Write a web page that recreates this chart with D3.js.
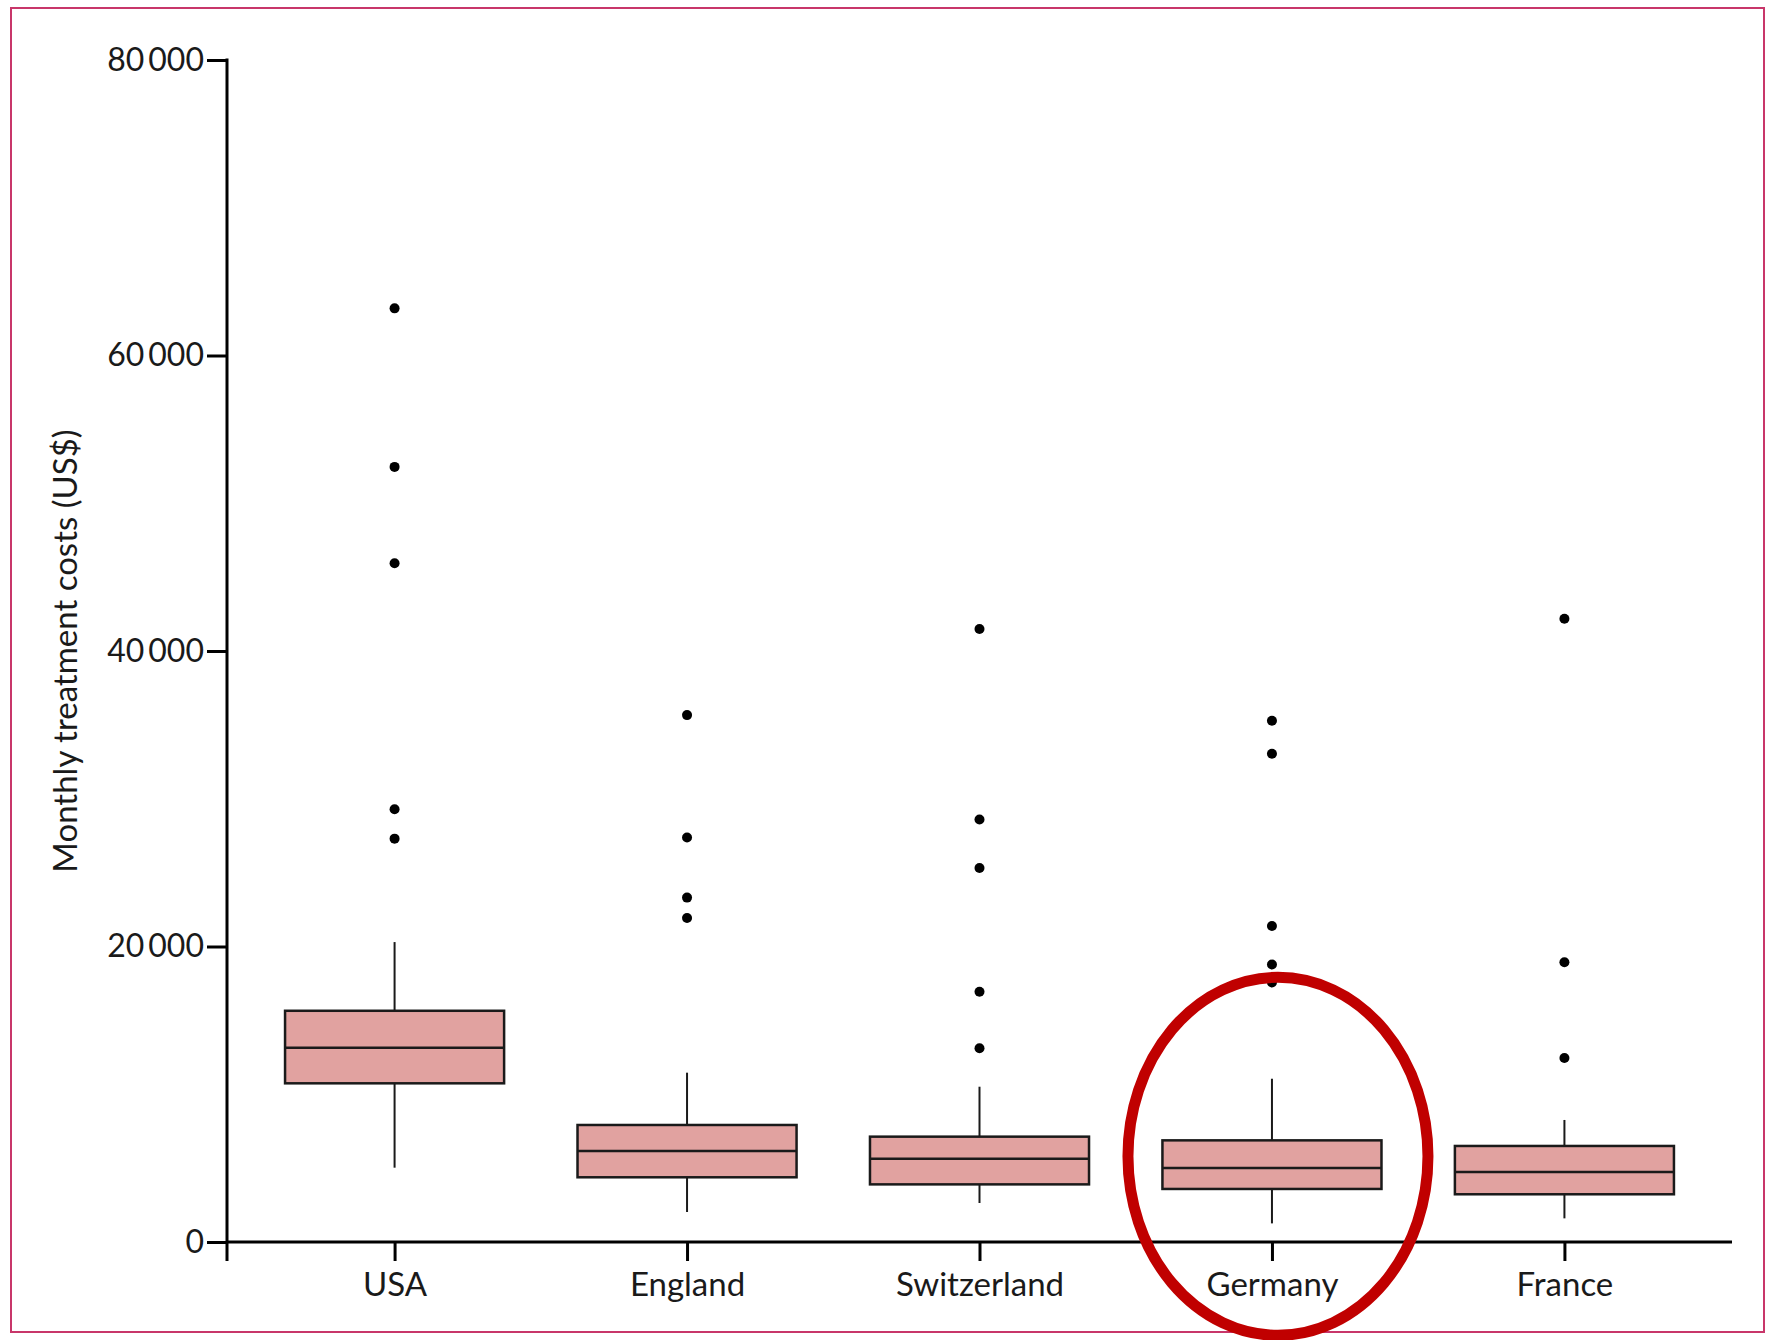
<!DOCTYPE html>
<html lang="en">
<head>
<meta charset="UTF-8">
<title>Monthly treatment costs</title>
<style>
  body, html { margin: 0; padding: 0; background: #fff; }
  #svg { display: block; font-family: Lato, "Open Sans", sans-serif; }
</style>
</head>
<body>
<svg id="svg" width="1777" height="1340"></svg>

<script src="https://d3js.org/d3.v7.min.js"></script>
<script>
// categories and box-plot statistics (US$ per month)
const countries = ['USA', 'England', 'Switzerland', 'Germany', 'France']
const whiskerLow = [5030, 2030, 2640, 1260, 1600]
const q1 = [10740, 4380, 3900, 3590, 3230]
const medians = [13150, 6160, 5640, 5010, 4740]
const q3 = [15650, 7920, 7130, 6880, 6500]
const whiskerHigh = [20300, 11460, 10510, 11050, 8260]
const outliers = [
  [63190, 52460, 45940, 29290, 27300],
  [35660, 27380, 23310, 21930],
  [41490, 28600, 25310, 16940, 13110],
  [35280, 33050, 21390, 18780, 17560],
  [42180, 18940, 12450]
]
const yTicks = [0, 20000, 40000, 60000, 80000]
const highlighted = 'Germany'

const svg = d3.select('#svg')

// frame around the figure
svg.append('rect')
  .attr('x', 11).attr('y', 8)
  .attr('width', 1753).attr('height', 1324)
  .attr('fill', 'none')
  .attr('stroke', '#c8366a')
  .attr('stroke-width', 2)

const plotLeft = 227, plotRight = 1732, plotTop = 60, plotBottom = 1242

const x = d3.scalePoint()
  .domain(countries)
  .range([plotLeft, plotRight])
  .padding(0.573)

const y = d3.scaleLinear()
  .domain([0, 80000])
  .range([plotBottom, plotTop])

const boxW = x.step() * 0.749

// y axis
const fmt = v => d3.format(',')(v).replace(/,/g, '\u2009')
const yAxis = svg.append('g')
  .attr('transform', `translate(${plotLeft},0)`)
  .call(d3.axisLeft(y).tickValues(yTicks).tickFormat(fmt).tickSize(20).tickPadding(3))
yAxis.select('.domain').remove()
yAxis.selectAll('line').attr('stroke', '#000').attr('stroke-width', 3)
yAxis.selectAll('text')
  .attr('fill', '#1a1a1a')
  .style('font-size', '32px')
  .style('font-family', 'Lato, "Open Sans", sans-serif')

// x axis
const xAxis = svg.append('g')
  .attr('transform', `translate(0,${plotBottom})`)
  .call(d3.axisBottom(x).tickSize(19).tickPadding(12))
xAxis.select('.domain').remove()
xAxis.selectAll('line').attr('stroke', '#000').attr('stroke-width', 3)
xAxis.selectAll('text')
  .attr('fill', '#1a1a1a')
  .style('font-size', '33px')
  .style('font-family', 'Lato, "Open Sans", sans-serif')

// axis lines (y line runs a little below the x axis)
svg.append('line')
  .attr('x1', plotLeft).attr('x2', plotLeft)
  .attr('y1', y(80000) - 1.5).attr('y2', plotBottom + 19)
  .attr('stroke', '#000').attr('stroke-width', 3)
svg.append('line')
  .attr('x1', plotLeft).attr('x2', plotRight)
  .attr('y1', plotBottom).attr('y2', plotBottom)
  .attr('stroke', '#000').attr('stroke-width', 3)

// axis title
svg.append('text')
  .attr('transform', 'translate(77,651) rotate(-90)')
  .attr('text-anchor', 'middle')
  .attr('fill', '#1a1a1a')
  .style('font-size', '33px')
  .text('Monthly treatment costs (US$)')

// boxes
const rows = countries.map((c, i) => ({
  c, lo: whiskerLow[i], q1: q1[i], med: medians[i], q3: q3[i], hi: whiskerHigh[i], out: outliers[i]
}))

const g = svg.append('g')
  .selectAll('g')
  .data(rows)
  .join('g')

g.append('line')
  .attr('x1', d => x(d.c)).attr('x2', d => x(d.c))
  .attr('y1', d => y(d.hi)).attr('y2', d => y(d.q3))
  .attr('stroke', '#1a1a1a').attr('stroke-width', 2)
g.append('line')
  .attr('x1', d => x(d.c)).attr('x2', d => x(d.c))
  .attr('y1', d => y(d.q1)).attr('y2', d => y(d.lo))
  .attr('stroke', '#1a1a1a').attr('stroke-width', 2)

g.append('rect')
  .attr('x', d => x(d.c) - boxW / 2)
  .attr('width', boxW)
  .attr('y', d => y(d.q3))
  .attr('height', d => y(d.q1) - y(d.q3))
  .attr('fill', '#e1a2a0')
  .attr('stroke', '#1a1a1a')
  .attr('stroke-width', 2.5)

g.append('line')
  .attr('x1', d => x(d.c) - boxW / 2).attr('x2', d => x(d.c) + boxW / 2)
  .attr('y1', d => y(d.med)).attr('y2', d => y(d.med))
  .attr('stroke', '#1a1a1a').attr('stroke-width', 2.5)

g.selectAll('circle')
  .data(d => d.out.map(v => ({ c: d.c, v })))
  .join('circle')
  .attr('cx', d => x(d.c))
  .attr('cy', d => y(d.v))
  .attr('r', 5)
  .attr('fill', '#000')

// red highlight ring around one country
svg.append('ellipse')
  .attr('cx', x(highlighted) + 6)
  .attr('cy', y(5800))
  .attr('rx', 150)
  .attr('ry', 179)
  .attr('fill', 'none')
  .attr('stroke', '#c00000')
  .attr('stroke-width', 11)
</script>
</body>
</html>
